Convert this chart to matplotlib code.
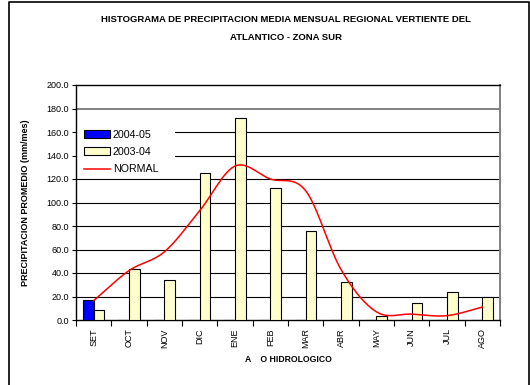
import numpy as np
import matplotlib
matplotlib.use("Agg")
import matplotlib.pyplot as plt
from matplotlib.patches import Rectangle
from matplotlib.lines import Line2D

plt.rcParams['font.family'] = ['Liberation Sans', 'DejaVu Sans']

meses = ["SET", "OCT", "NOV", "DIC", "ENE", "FEB", "MAR", "ABR", "MAY", "JUN", "JUL", "AGO"]
p_2004_05 = [17.0, 0, 0, 0, 0, 0, 0, 0, 0, 0, 0, 0]
p_2003_04 = [8.5, 43.5, 34.0, 125.0, 172.0, 112.3, 75.6, 32.0, 3.0, 14.8, 24.0, 19.6]
normal = [16.5, 42.0, 58.0, 93.0, 131.0, 120.0, 110.0, 43.0, 7.0, 5.0, 3.7, 11.0]


def suavizar(x, y, n=30):
    # curva Catmull-Rom entre puntos consecutivos
    x = np.asarray(x, float)
    y = np.asarray(y, float)
    px = np.concatenate([[2 * x[0] - x[1]], x, [2 * x[-1] - x[-2]]])
    py = np.concatenate([[2 * y[0] - y[1]], y, [2 * y[-1] - y[-2]]])
    xs, ys = [], []
    t = np.linspace(0, 1, n)
    for i in range(1, len(px) - 2):
        for p, out in ((px, xs), (py, ys)):
            p0, p1, p2, p3 = p[i - 1], p[i], p[i + 1], p[i + 2]
            out.extend(0.5 * (2 * p1 + (-p0 + p2) * t
                              + (2 * p0 - 5 * p1 + 4 * p2 - p3) * t ** 2
                              + (-p0 + 3 * p1 - 3 * p2 + p3) * t ** 3))
    return np.array(xs), np.array(ys)


fig = plt.figure(figsize=(5.3, 3.85), dpi=100)
ax = fig.add_axes([76 / 530, 65 / 385, 424 / 530, 235 / 385])

x = np.arange(len(meses))
w = 0.3
ax.bar(x - w / 2, p_2004_05, w, color="#0000FF", edgecolor="black", linewidth=0.8, zorder=3)
ax.bar(x + w / 2, p_2003_04, w, color="#FFFFCC", edgecolor="black", linewidth=0.8, zorder=3)
sx, sy = suavizar(x, normal)
ax.plot(sx, sy, color="#FF0000", linewidth=1.1, zorder=4)

ax.set_xlim(-0.5, 11.5)
ax.set_ylim(0, 200)
ax.set_yticks(np.arange(0, 201, 20))
ax.set_yticklabels(["%.1f" % v for v in np.arange(0, 201, 20)], fontsize=6.5)
ax.set_xticks(x)
ax.set_xticklabels(meses, rotation=90, fontsize=6.5)
ax.set_xticks(np.arange(-0.5, 12, 1), minor=True)
ax.tick_params(axis="x", which="major", length=0, pad=6)
ax.tick_params(axis="x", which="minor", length=4, width=0.8)
ax.tick_params(axis="y", length=3, width=0.8, pad=2)

for v in np.arange(20, 200, 20):
    if v == 180:
        ax.axhline(v, color="#808080", linewidth=1.4, zorder=1)
    else:
        ax.axhline(v, color="black", linewidth=0.8, zorder=1)
for s in ["left", "bottom", "top"]:
    ax.spines[s].set_linewidth(1.0)
ax.spines["right"].set_color("#808080")
ax.spines["right"].set_linewidth(1.4)

ax.set_ylabel("PRECIPITACION PROMEDIO (mm/mes)", fontsize=6.5, fontweight="bold", labelpad=12)
ax.set_xlabel("A    O HIDROLOGICO", fontsize=6.2, fontweight="bold", labelpad=5)

fig.text(0.54, 1 - 20 / 385, "HISTOGRAMA DE PRECIPITACION MEDIA MENSUAL REGIONAL VERTIENTE DEL",
         ha="center", va="center", fontsize=6.8, fontweight="bold")
fig.text(0.54, 1 - 38 / 385, "ATLANTICO - ZONA SUR",
         ha="center", va="center", fontsize=6.8, fontweight="bold")

# fondo blanco de la leyenda (tapa la cuadricula)
ax.add_patch(Rectangle((0, (320 - 178) / 235), 99 / 424, 62 / 235, transform=ax.transAxes,
                       facecolor="white", edgecolor="none", zorder=2))
handles = [Rectangle((0, 0), 1, 1, facecolor="#0000FF", edgecolor="black", linewidth=0.8),
           Rectangle((0, 0), 1, 1, facecolor="#FFFFCC", edgecolor="black", linewidth=0.8),
           Line2D([], [], color="#FF0000", linewidth=1.1)]
leg = ax.legend(handles, ["2004-05", "2003-04", "NORMAL"], loc="center left",
                bbox_to_anchor=(8 / 424, (320 - 152) / 235), fontsize=7.7, frameon=False,
                handlelength=2.4, handleheight=0.75, handletextpad=0.3,
                labelspacing=0.7, borderaxespad=0.0, borderpad=0.0)
leg.set_zorder(5)

# marco del grafico
fig.add_artist(Line2D([9 / 530, 9 / 530, 529 / 530, 529 / 530], [0, 1 - 2 / 385, 1 - 2 / 385, 0],
                      color="black", linewidth=1.2))

fig.savefig("out.png", dpi=100)
